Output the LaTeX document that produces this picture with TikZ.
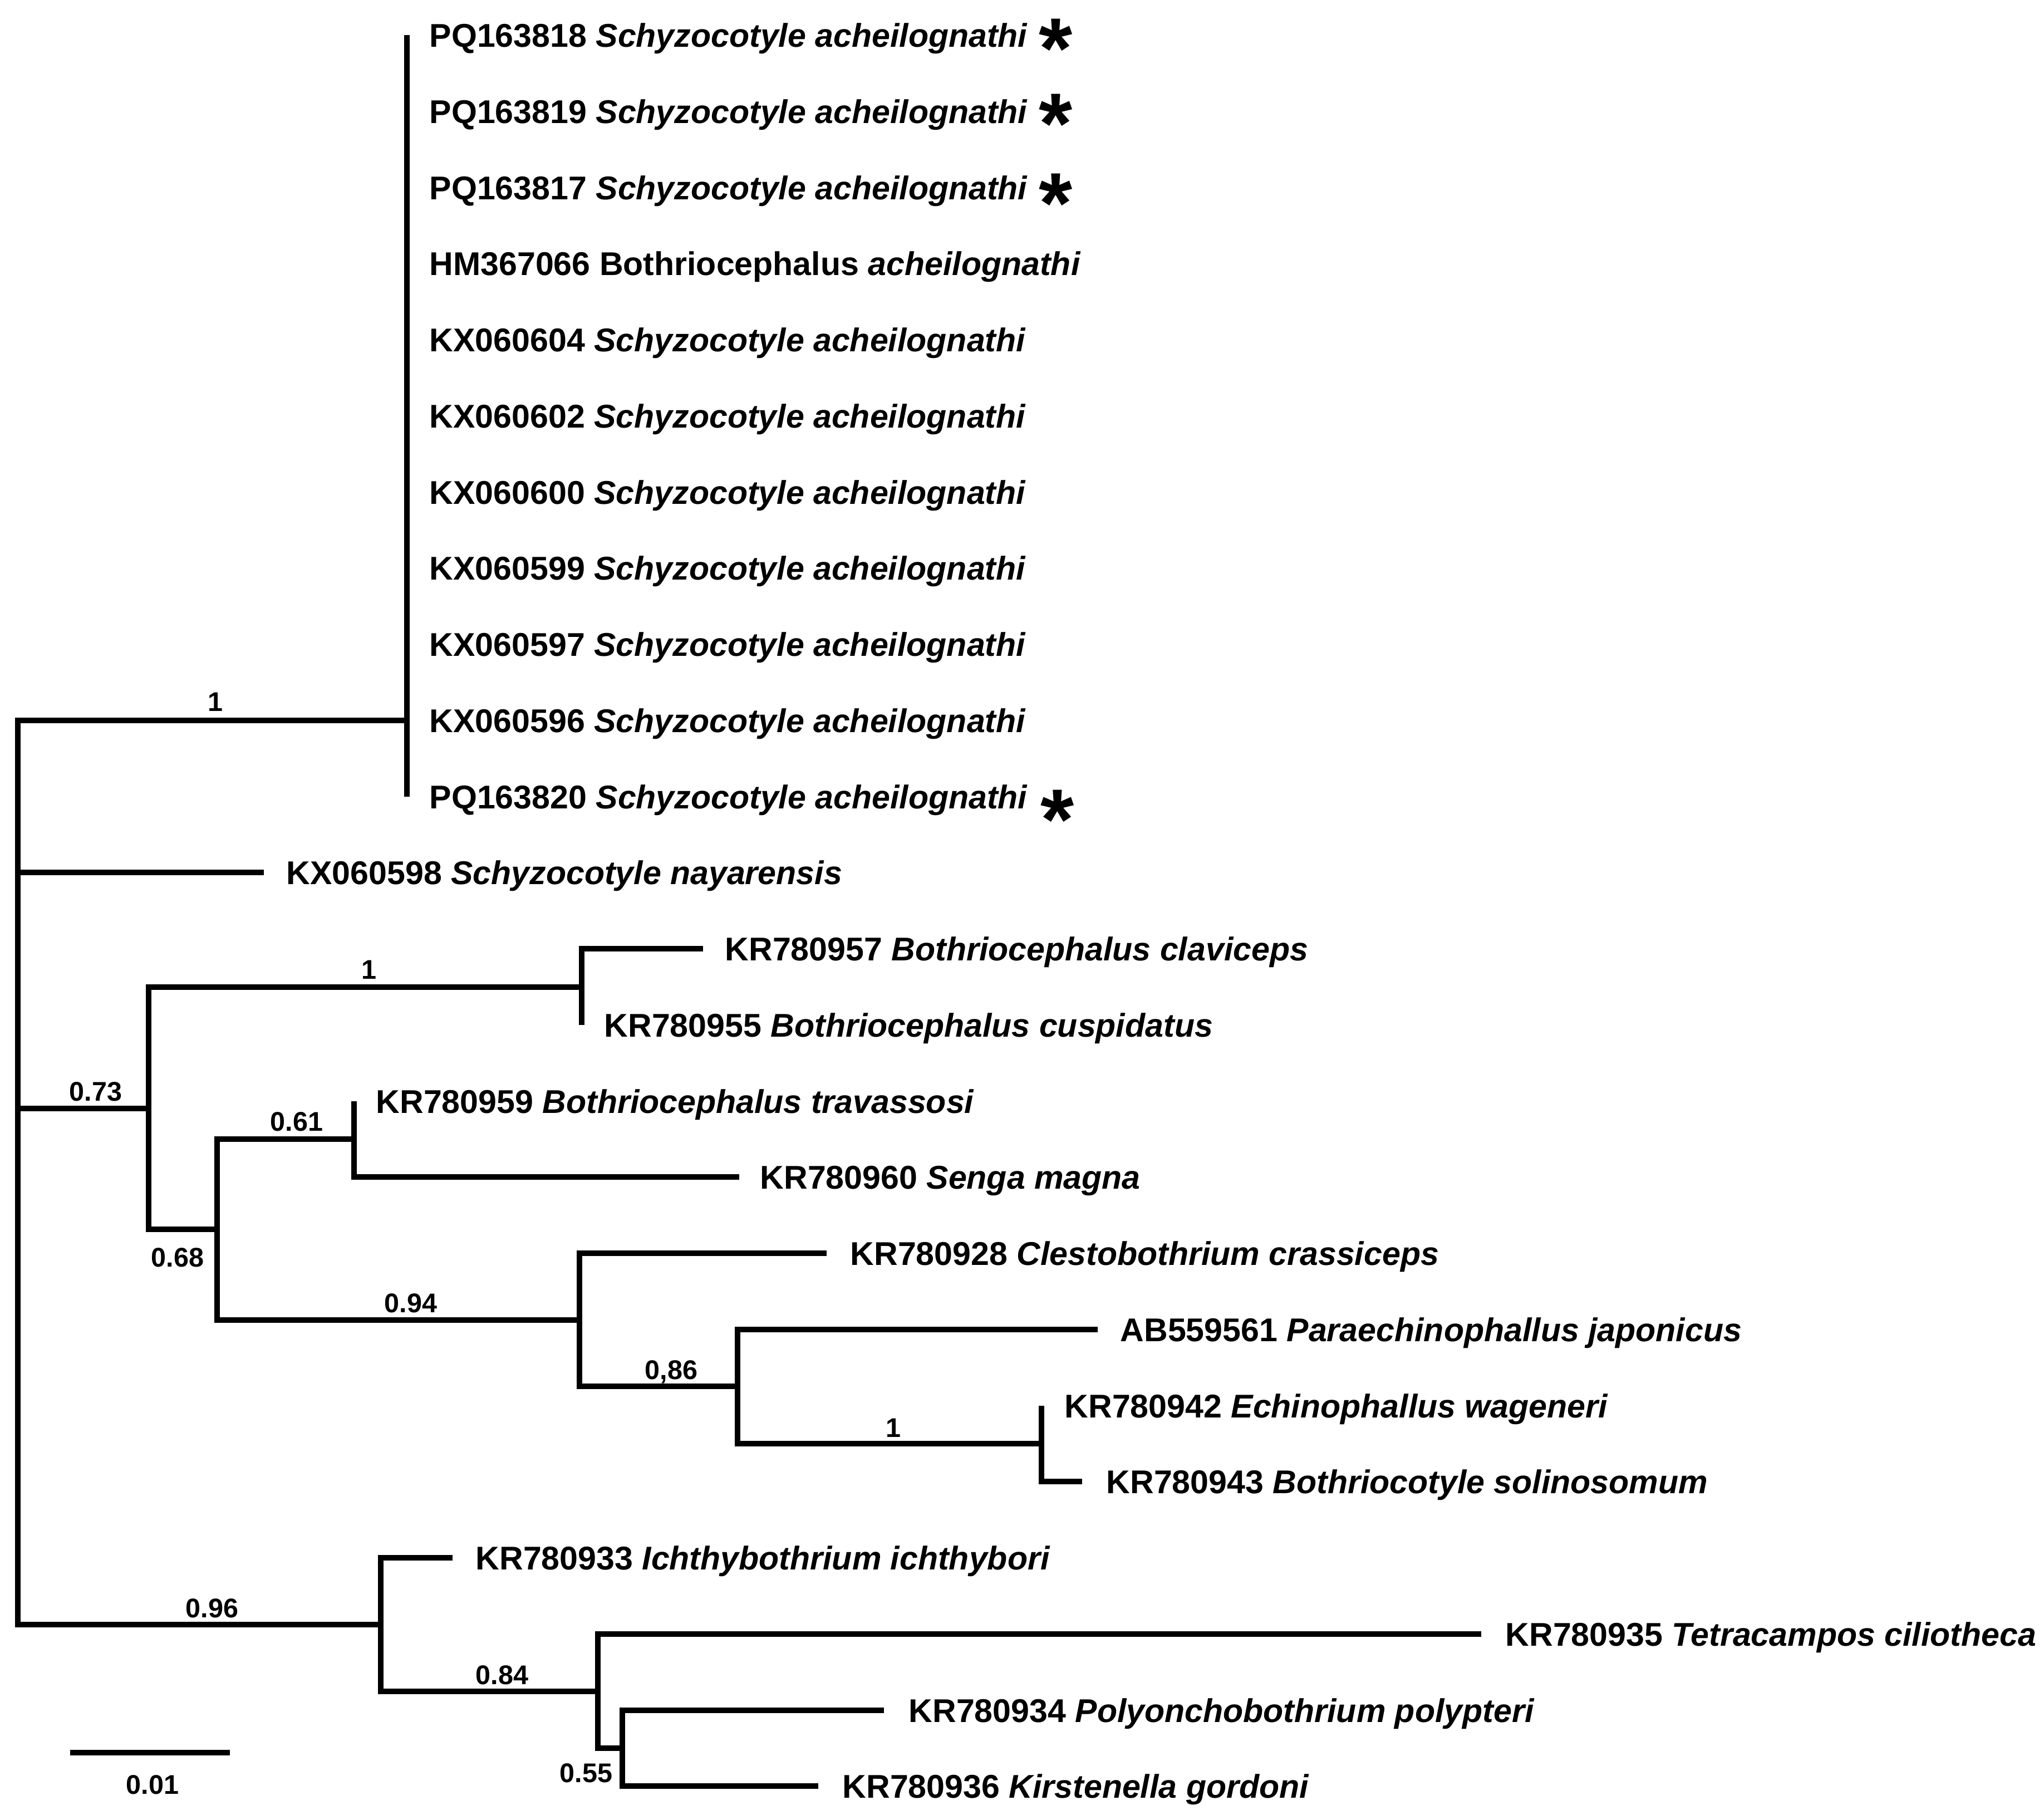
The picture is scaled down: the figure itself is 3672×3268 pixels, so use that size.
\documentclass[tikz,border=0pt]{standalone}
\usepackage{fontspec}
\setmainfont{Liberation Sans}
\newcommand\tipfont{\fontsize{16.8}{20}\selectfont\bfseries}
\newcommand\supfont{\fontsize{13.8}{16}\selectfont\bfseries}
\newcommand\starfont{\fontsize{44}{44}\selectfont\bfseries}
\newcommand\starglyph{\raisebox{-0.41em}[0.26em][0pt]{*}}
\begin{document}
\begin{tikzpicture}[x=0.01cm,y=-0.01cm,
  br/.style={line width=0.1cm, line join=miter, line cap=butt},
  tip/.style={anchor=base west, inner sep=0pt, font=\tipfont},
  suplab/.style={anchor=base, inner sep=0pt, font=\supfont},
  starmark/.style={anchor=center, inner sep=0pt, font=\starfont}]
\useasboundingbox (0,0) rectangle (3672,3268);
% tip branch ends
\coordinate (t0) at (731,63);
\coordinate (t10) at (731,1431);
\coordinate (t11) at (474,1567);
\coordinate (t12) at (1263,1704);
\coordinate (t13) at (1045,1841);
\coordinate (t14) at (636,1978);
\coordinate (t15) at (1328,2114);
\coordinate (t16) at (1485,2251);
\coordinate (t17) at (1972,2388);
\coordinate (t18) at (1871,2525);
\coordinate (t19) at (1944,2661);
\coordinate (t20) at (813,2798);
\coordinate (t21) at (2661,2935);
\coordinate (t22) at (1588,3072);
\coordinate (t23) at (1470,3208);
% internal nodes
\coordinate (R) at (32,1294);
\coordinate (nA) at (731,1294);
\coordinate (nB) at (267,1991);
\coordinate (nC) at (1045,1773);
\coordinate (nD) at (390,2208);
\coordinate (nE) at (636,2046);
\coordinate (nF) at (1041,2371);
\coordinate (nG) at (1325,2490);
\coordinate (nH) at (1871,2593);
\coordinate (nI) at (684,2918);
\coordinate (nJ) at (1074,3038);
\coordinate (nK) at (1118,3140);
% branches
\draw[br] (nA) -- (R) -- (R |- nI) -- (nI);
\draw[br] (R |- t11) -- (t11);
\draw[br] (R |- nB) -- (nB);
\draw[br] (t0) -- (t10);
\draw[br] (nC) -| (nB) |- (nD);
\draw[br] (t12) -| (nC) |- (t13);
\draw[br] (nE) -| (nD) |- (nF);
\draw[br] (t14) -| (nE) |- (t15);
\draw[br] (t16) -| (nF) |- (nG);
\draw[br] (t17) -| (nG) |- (nH);
\draw[br] (t18) -| (nH) |- (t19);
\draw[br] (t20) -| (nI) |- (nJ);
\draw[br] (t21) -| (nJ) |- (nK);
\draw[br] (t22) -| (nK) |- (t23);
% tip labels
\node[tip] (L0) at (771,84) {PQ163818 \textit{Schyzocotyle acheilognathi}};
\node[tip] (L1) at (771,221) {PQ163819 \textit{Schyzocotyle acheilognathi}};
\node[tip] (L2) at (771,358) {PQ163817 \textit{Schyzocotyle acheilognathi}};
\node[tip] (L3) at (771,494) {HM367066 Bothriocephalus \textit{acheilognathi}};
\node[tip] (L4) at (771,631) {KX060604 \textit{Schyzocotyle acheilognathi}};
\node[tip] (L5) at (771,768) {KX060602 \textit{Schyzocotyle acheilognathi}};
\node[tip] (L6) at (771,905) {KX060600 \textit{Schyzocotyle acheilognathi}};
\node[tip] (L7) at (771,1041) {KX060599 \textit{Schyzocotyle acheilognathi}};
\node[tip] (L8) at (771,1178) {KX060597 \textit{Schyzocotyle acheilognathi}};
\node[tip] (L9) at (771,1315) {KX060596 \textit{Schyzocotyle acheilognathi}};
\node[tip] (L10) at (771,1452) {PQ163820 \textit{Schyzocotyle acheilognathi}};
\node[tip] (L11) at (514,1588) {KX060598 \textit{Schyzocotyle nayarensis}};
\node[tip] (L12) at (1302,1725) {KR780957 \textit{Bothriocephalus claviceps}};
\node[tip] (L13) at (1085,1862) {KR780955 \textit{Bothriocephalus cuspidatus}};
\node[tip] (L14) at (675,1999) {KR780959 \textit{Bothriocephalus travassosi}};
\node[tip] (L15) at (1365,2135) {KR780960 \textit{Senga magna}};
\node[tip] (L16) at (1527,2272) {KR780928 \textit{Clestobothrium crassiceps}};
\node[tip] (L17) at (2012,2409) {AB559561 \textit{Paraechinophallus japonicus}};
\node[tip] (L18) at (1912,2546) {KR780942 \textit{Echinophallus wageneri}};
\node[tip] (L19) at (1987,2682) {KR780943 \textit{Bothriocotyle solinosomum}};
\node[tip] (L20) at (854,2819) {KR780933 \textit{Ichthybothrium ichthybori}};
\node[tip] (L21) at (2704,2956) {KR780935 \textit{Tetracampos ciliotheca}};
\node[tip] (L22) at (1632,3093) {KR780934 \textit{Polyonchobothrium polypteri}};
\node[tip] (L23) at (1513,3229) {KR780936 \textit{Kirstenella gordoni}};
% asterisks
\node[starmark] (s0) at (1897,57) {\starglyph};
\node[starmark] (s1) at (1897,192) {\starglyph};
\node[starmark] (s2) at (1897,335) {\starglyph};
\node[starmark] (s10) at (1900,1442) {\starglyph};
% support values
\node[suplab] (p1) at (387,1277) {1};
\node[suplab] (p2) at (663,1758) {1};
\node[suplab] (p3) at (172,1977) {0.73};
\node[suplab] (p4) at (533,2031) {0.61};
\node[suplab] (p5) at (319,2275) {0.68};
\node[suplab] (p6) at (738,2357) {0.94};
\node[suplab] (p7) at (1206,2477) {0,86};
\node[suplab] (p8) at (1605,2581) {1};
\node[suplab] (p9) at (381,2905) {0.96};
\node[suplab] (p10) at (902,3025) {0.84};
\node[suplab] (p11) at (1053,3201) {0.55};
% scale bar
\coordinate (sb1) at (126,3148);
\coordinate (sb2) at (413,3148);
\draw[br] (sb1) -- (sb2);
\node[suplab] (sbl) at (274,3222) {0.01};
\end{tikzpicture}
\end{document}
